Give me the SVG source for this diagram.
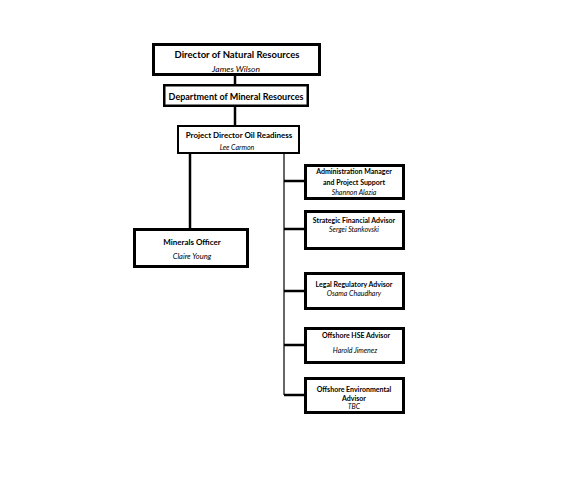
<svg xmlns="http://www.w3.org/2000/svg" width="583" height="502" viewBox="0 0 583 502">
<style>
.box{fill:#fff;stroke:#000}
.t{font-family:Lato,"Open Sans","Liberation Sans",sans-serif;font-weight:bold;text-anchor:middle;fill:#000}
.n{font-family:Lato,"Open Sans","Liberation Sans",sans-serif;font-style:italic;text-anchor:middle;fill:#000}
.c{stroke:#000;stroke-width:2.5;fill:none}
</style>
<rect width="583" height="502" fill="#fff"/>
<g id="connectors">
<line class="c" x1="235" y1="75" x2="235" y2="86"/>
<line class="c" x1="235" y1="106" x2="235" y2="127"/>
<line class="c" x1="190" y1="153" x2="190" y2="230"/>
<line x1="284" y1="153" x2="284" y2="395" stroke="#666" stroke-width="2"/>
<line class="c" x1="284" y1="181" x2="305" y2="181"/>
<line class="c" x1="284" y1="229" x2="305" y2="229"/>
<line class="c" x1="284" y1="291" x2="305" y2="291"/>
<line class="c" x1="284" y1="345" x2="305" y2="345"/>
<line class="c" x1="284" y1="395" x2="305" y2="395"/>
</g>
<g id="director">
<rect class="box" x="153.5" y="44.5" width="166" height="30" stroke-width="3"/>
<text class="t" x="237" y="58" font-size="9.5">Director of Natural Resources</text>
<text class="n" x="236" y="71.5" font-size="8.5">James Wilson</text>
</g>
<g id="department">
<rect class="box" x="164.25" y="85.25" width="143.5" height="20.5" stroke-width="2.5"/>
<text class="t" x="236" y="99.5" font-size="9">Department of Mineral Resources</text>
</g>
<g id="project-director">
<rect class="box" x="178" y="126" width="121" height="27" stroke-width="2"/>
<text class="t" x="239" y="137.5" font-size="8">Project Director Oil Readiness</text>
<text class="n" x="237" y="150" font-size="7">Lee Carmon</text>
</g>
<g id="minerals-officer">
<rect class="box" x="134.5" y="229.5" width="113" height="37" stroke-width="3"/>
<text class="t" x="192" y="245" font-size="8">Minerals Officer</text>
<text class="n" x="192" y="259" font-size="7.5">Claire Young</text>
</g>
<g id="admin-manager">
<rect class="box" x="305.5" y="165.5" width="98" height="33" stroke-width="3"/>
<text class="t" x="354" y="173.5" font-size="7">Administration Manager</text>
<text class="t" x="354" y="184.5" font-size="7">and Project Support</text>
<text class="n" x="354" y="194.5" font-size="7">Shannon Alazia</text>
</g>
<g id="financial-advisor">
<rect class="box" x="305.5" y="211.5" width="98" height="37" stroke-width="3"/>
<text class="t" x="354" y="222.5" font-size="7">Strategic Financial Advisor</text>
<text class="n" x="354" y="231.5" font-size="7">Sergei Stankovski</text>
</g>
<g id="legal-advisor">
<rect class="box" x="305.5" y="273.5" width="98" height="35" stroke-width="3"/>
<text class="t" x="354" y="286.5" font-size="7">Legal Regulatory Advisor</text>
<text class="n" x="354" y="295.5" font-size="7">Osama Chaudhary</text>
</g>
<g id="hse-advisor">
<rect class="box" x="305.5" y="328.5" width="98" height="34" stroke-width="3"/>
<text class="t" x="356" y="337.5" font-size="7">Offshore HSE Advisor</text>
<text class="n" x="355" y="352.5" font-size="7">Harold Jimenez</text>
</g>
<g id="env-advisor">
<rect class="box" x="305.5" y="378.5" width="98" height="34" stroke-width="3"/>
<text class="t" x="354" y="391.5" font-size="7">Offshore Environmental</text>
<text class="t" x="354" y="400.5" font-size="7">Advisor</text>
<text class="n" x="354" y="409" font-size="7">TBC</text>
</g>
</svg>
